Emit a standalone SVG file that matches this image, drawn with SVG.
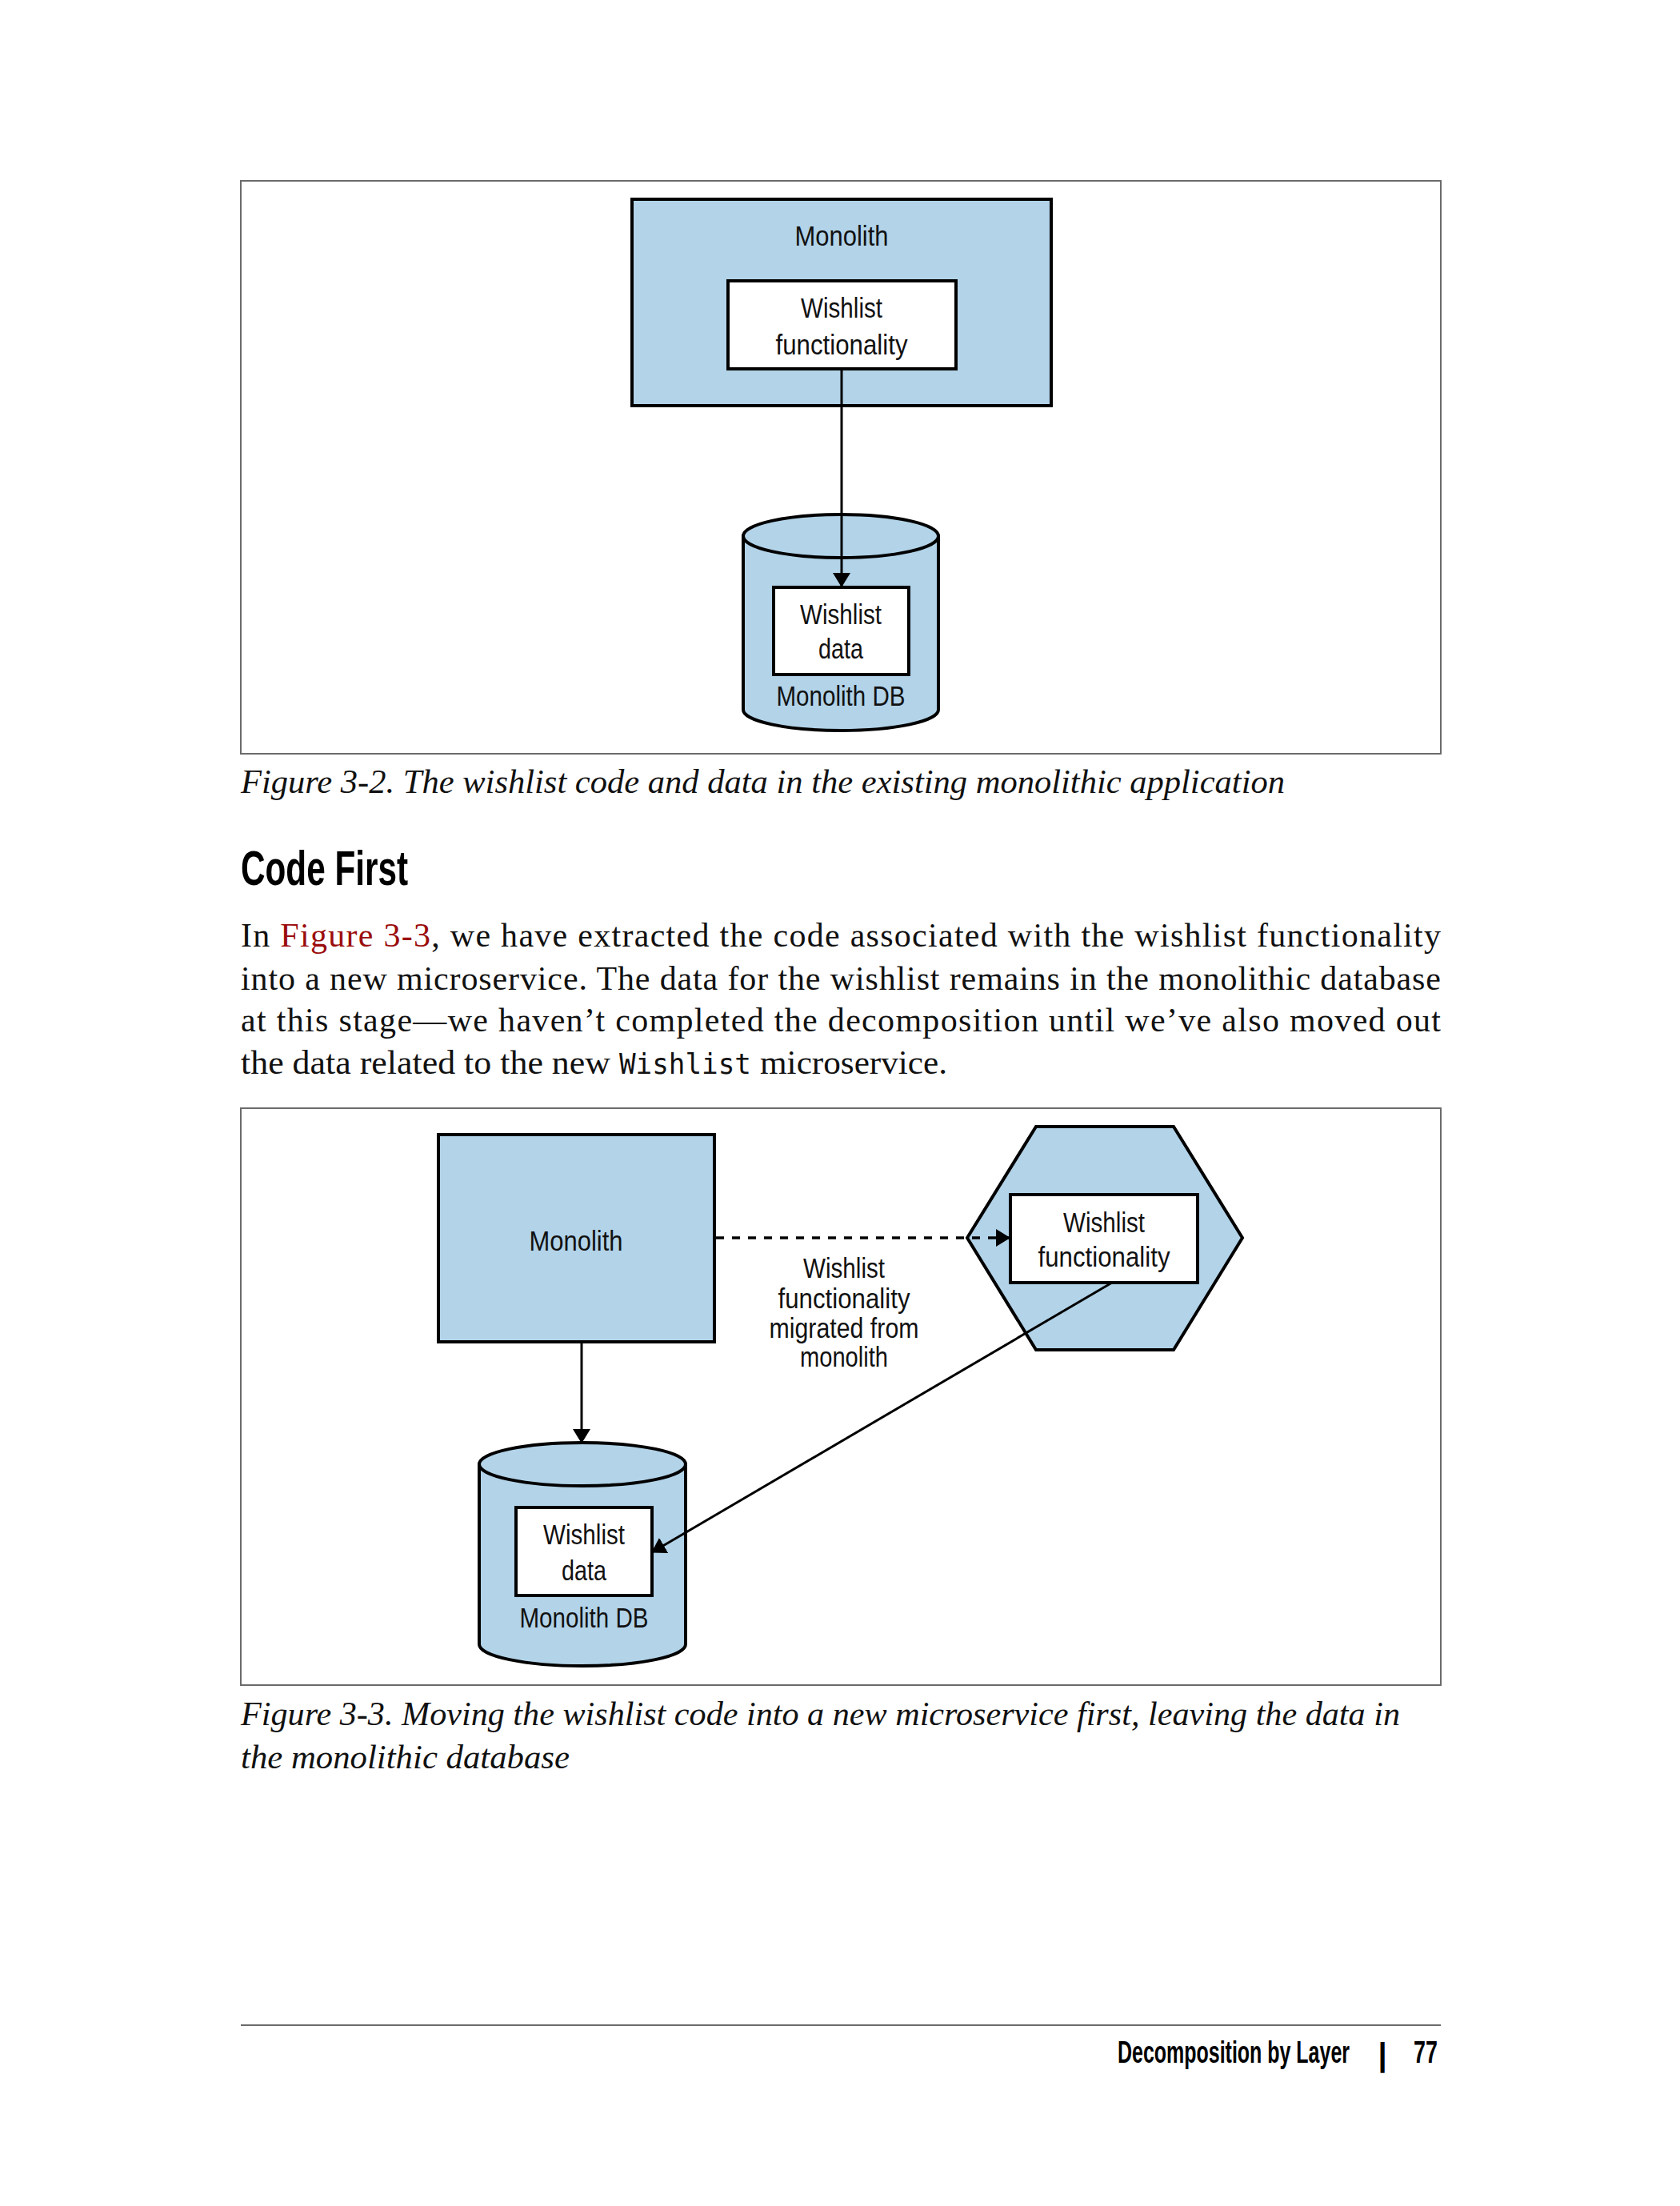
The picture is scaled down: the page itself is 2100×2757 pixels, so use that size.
<svg xmlns="http://www.w3.org/2000/svg" width="2100" height="2757" viewBox="0 0 2100 2757">
<style>
.frame{fill:none;stroke:#6b6b6b;stroke-width:2}
.blue{fill:#b2d3e8;stroke:#000;stroke-width:4}
.box{fill:#fff;stroke:#000;stroke-width:4}
.lbl{font-family:"Liberation Sans",Arial,sans-serif;font-size:35px;fill:#111;text-anchor:middle}
.conn{fill:none;stroke:#000;stroke-width:3}
.dash{fill:none;stroke:#000;stroke-width:3.5;stroke-dasharray:10 10}
.body{font-family:"Liberation Serif","Times New Roman",serif;font-size:42px;fill:#111}
.cap{font-family:"Liberation Serif","Times New Roman",serif;font-style:italic;font-size:42px;fill:#111}
.head{font-family:"Liberation Sans",Arial,sans-serif;font-weight:bold;fill:#000}
.mono{font-family:"DejaVu Sans Mono","Liberation Mono",monospace;font-size:35px;fill:#111}
.link{fill:#9b0d0d}
</style>
<defs>
<marker id="arr" viewBox="0 0 18 22" markerWidth="18" markerHeight="22" refX="17" refY="11" orient="auto" markerUnits="userSpaceOnUse">
<path d="M0,0 L18,11 L0,22 z" fill="#000"/>
</marker>
</defs>

<!-- Figure 3-2 -->
<rect class="frame" x="301" y="226" width="1500" height="716"/>
<g id="f1-monolith">
<rect class="blue" x="790" y="249" width="524" height="258"/>
<text class="lbl" x="1052" y="307" textLength="117" lengthAdjust="spacingAndGlyphs">Monolith</text>
</g>
<g id="f1-wishlist-func">
<rect class="box" x="910" y="351" width="285" height="110"/>
<text class="lbl" x="1052" y="397" textLength="102" lengthAdjust="spacingAndGlyphs">Wishlist</text>
<text class="lbl" x="1052" y="443" textLength="165" lengthAdjust="spacingAndGlyphs">functionality</text>
</g>
<g id="f1-db">
<path class="blue" d="M929,670 L929,887 A122,26 0 0 0 1173,887 L1173,670 Z"/>
<ellipse class="blue" cx="1051" cy="670" rx="122" ry="27"/>
<rect class="box" x="967" y="734" width="169" height="109"/>
<text class="lbl" x="1051" y="780" textLength="102" lengthAdjust="spacingAndGlyphs">Wishlist</text>
<text class="lbl" x="1051" y="823" textLength="56" lengthAdjust="spacingAndGlyphs">data</text>
<text class="lbl" x="1051" y="882" textLength="161" lengthAdjust="spacingAndGlyphs">Monolith DB</text>
</g>
<g id="f1-connectors">
<line class="conn" x1="1052" y1="461" x2="1052" y2="733" marker-end="url(#arr)"/>
</g>

<text class="cap" x="301" y="991" textLength="1305" lengthAdjust="spacingAndGlyphs">Figure 3-2. The wishlist code and data in the existing monolithic application</text>

<text class="head" x="301" y="1106" font-size="62" textLength="209" lengthAdjust="spacingAndGlyphs">Code First</text>

<text class="body" x="301" y="1183" textLength="1500" lengthAdjust="spacing">In <tspan class="link">Figure 3-3</tspan>, we have extracted the code associated with the wishlist functionality</text>
<text class="body" x="301" y="1237" textLength="1500" lengthAdjust="spacing">into a new microservice. The data for the wishlist remains in the monolithic database</text>
<text class="body" x="301" y="1289" textLength="1500" lengthAdjust="spacing">at this stage—we haven’t completed the decomposition until we’ve also moved out</text>
<text class="body" x="301" y="1342" textLength="462" lengthAdjust="spacingAndGlyphs">the data related to the new</text>
<text class="mono" x="774" y="1342" textLength="165" lengthAdjust="spacingAndGlyphs">Wishlist</text>
<text class="body" x="950" y="1342" textLength="234" lengthAdjust="spacingAndGlyphs">microservice.</text>

<!-- Figure 3-3 -->
<rect class="frame" x="301" y="1385" width="1500" height="721"/>
<g id="f2-monolith">
<rect class="blue" x="548" y="1418" width="345" height="259"/>
<text class="lbl" x="720" y="1563" textLength="117" lengthAdjust="spacingAndGlyphs">Monolith</text>
</g>
<g id="f2-microservice">
<polygon class="blue" points="1209,1547 1295,1408 1467,1408 1553,1547 1467,1687 1295,1687"/>
<rect class="box" x="1263" y="1493" width="234" height="110"/>
<text class="lbl" x="1380" y="1540" textLength="102" lengthAdjust="spacingAndGlyphs">Wishlist</text>
<text class="lbl" x="1380" y="1583" textLength="165" lengthAdjust="spacingAndGlyphs">functionality</text>
</g>
<g id="f2-db">
<path class="blue" d="M599,1830 L599,2055 A129,27 0 0 0 857,2055 L857,1830 Z"/>
<ellipse class="blue" cx="728" cy="1830" rx="129" ry="27"/>
<rect class="box" x="645" y="1884" width="170" height="110"/>
<text class="lbl" x="730" y="1930" textLength="102" lengthAdjust="spacingAndGlyphs">Wishlist</text>
<text class="lbl" x="730" y="1975" textLength="56" lengthAdjust="spacingAndGlyphs">data</text>
<text class="lbl" x="730" y="2034" textLength="161" lengthAdjust="spacingAndGlyphs">Monolith DB</text>
</g>
<g id="f2-connectors">
<line class="conn" x1="727" y1="1677" x2="727" y2="1803" marker-end="url(#arr)"/>
<line class="dash" x1="895" y1="1547" x2="1262" y2="1547" marker-end="url(#arr)"/>
<line class="conn" x1="1390" y1="1603" x2="815" y2="1940" marker-end="url(#arr)"/>
<g id="f2-edge-label">
<text class="lbl" x="1055" y="1597" textLength="102" lengthAdjust="spacingAndGlyphs">Wishlist</text>
<text class="lbl" x="1055" y="1635" textLength="165" lengthAdjust="spacingAndGlyphs">functionality</text>
<text class="lbl" x="1055" y="1672" textLength="187" lengthAdjust="spacingAndGlyphs">migrated from</text>
<text class="lbl" x="1055" y="1708" textLength="110" lengthAdjust="spacingAndGlyphs">monolith</text>
</g>
</g>

<text class="cap" x="301" y="2156" textLength="1449" lengthAdjust="spacingAndGlyphs">Figure 3-3. Moving the wishlist code into a new microservice first, leaving the data in</text>
<text class="cap" x="301" y="2210" textLength="411" lengthAdjust="spacingAndGlyphs">the monolithic database</text>

<!-- Footer -->
<line x1="301" y1="2531" x2="1801" y2="2531" stroke="#6b6b6b" stroke-width="2"/>
<text class="head" x="1397" y="2578" font-size="39" textLength="290" lengthAdjust="spacingAndGlyphs">Decomposition by Layer</text>
<text class="head" x="1728" y="2582" font-size="40" text-anchor="middle" font-weight="normal">|</text>
<text class="head" x="1767" y="2578" font-size="39" textLength="30" lengthAdjust="spacingAndGlyphs">77</text>
</svg>
